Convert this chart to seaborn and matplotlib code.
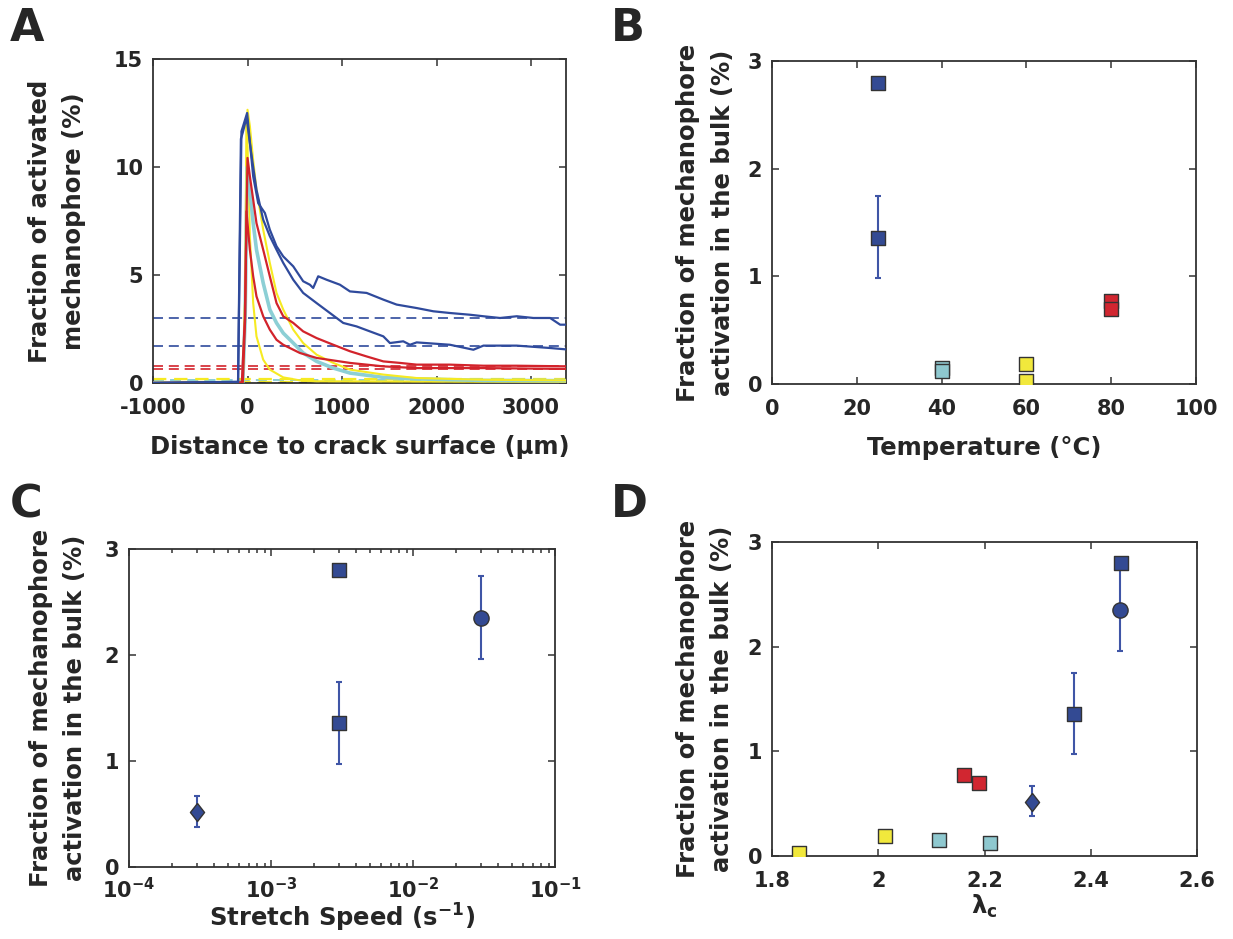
import numpy as np
import pandas as pd
import matplotlib
matplotlib.use("Agg")
import matplotlib.pyplot as plt
import seaborn as sns

# ---------------- data ----------------
# Panel A: activation profiles (distance in um, fraction %)
blue1_x = [-1000, -100, -64, -46, -4, 60, 113, 148, 184, 236, 307, 378, 484, 589, 660, 695, 748, 837, 978,
           1084, 1260, 1437, 1578, 1790, 1966, 2143, 2354, 2496, 2672, 2849, 3025, 3202, 3308, 3413]
blue1_y = [0.0, 0.05, 11.65, 11.9, 12.5, 9.57, 8.33, 8.10, 7.87, 7.10, 6.33, 5.86, 5.40, 4.71, 4.55, 4.40, 4.94,
           4.78, 4.55, 4.24, 4.17, 3.86, 3.63, 3.47, 3.32, 3.24, 3.16, 3.09, 3.01, 3.09, 3.01, 3.01, 2.70, 2.70]

blue2_x = [-1000, -100, -70, -50, -10, 25, 60, 95, 166, 236, 307, 378, 484, 589, 731, 872, 1013, 1154, 1295,
           1437, 1507, 1648, 1719, 1790, 2143, 2390, 2496, 2849, 3202, 3413]
blue2_y = [0.0, 0.05, 11.3, 11.6, 12.3, 11.1, 10.0, 8.95, 7.56, 6.80, 6.17, 5.56, 4.78, 4.17, 3.70, 3.24, 2.78,
           2.62, 2.39, 2.16, 1.85, 1.93, 1.77, 1.88, 1.77, 1.54, 1.73, 1.73, 1.62, 1.54]

red1_x = [-1000, -60, -28, 0, 25, 60, 95, 166, 236, 307, 378, 484, 589, 731, 908, 1084, 1260, 1437, 1613,
          1790, 2143, 2496, 2849, 3413]
red1_y = [0.0, 0.02, 3.0, 10.42, 9.57, 8.49, 7.40, 6.17, 4.94, 3.70, 3.09, 2.78, 2.39, 2.08, 1.77, 1.47, 1.23,
          1.00, 0.93, 0.85, 0.85, 0.80, 0.80, 0.77]

red2_x = [-1000, -50, -25, -11, 25, 60, 95, 166, 236, 307, 378, 554, 731, 1084, 1437, 1790, 2496, 3413]
red2_y = [0.0, 0.02, 3.0, 7.95, 6.17, 4.94, 4.01, 3.09, 2.47, 2.00, 1.77, 1.39, 1.16, 0.93, 0.77, 0.69, 0.69, 0.65]

cyan_x = [-1000, -50, -25, -4, 25, 60, 95, 166, 236, 307, 378, 484, 589, 731, 908, 1084, 1437, 1790, 2496, 3413]
cyan_y = [0.0, 0.02, 3.0, 10.0, 8.95, 7.40, 6.17, 4.63, 3.40, 2.78, 2.31, 1.85, 1.39, 1.00, 0.69, 0.46, 0.26,
          0.19, 0.12, 0.11]

yellow1_x = [-1000, -50, -25, 0, 25, 60, 95, 166, 236, 307, 378, 484, 589, 731, 908, 1084, 1437, 1790, 2496, 3413]
yellow1_y = [0.0, 0.02, 4.0, 12.65, 11.9, 10.3, 8.95, 7.10, 5.56, 4.17, 3.40, 2.47, 1.85, 1.31, 0.93, 0.62,
             0.39, 0.23, 0.15, 0.12]

yellow2_x = [-1000, -50, -25, -11, 7, 25, 60, 95, 166, 236, 378, 554, 731, 3413]
yellow2_y = [0.0, 0.02, 4.0, 12.35, 10.0, 6.80, 3.70, 2.16, 1.08, 0.62, 0.26, 0.12, 0.08, 0.05]

# bulk levels (dashed lines) in panel A
bulk_blue = [3.0, 1.7]
bulk_red = [0.80, 0.66]
bulk_cyan = [0.15, 0.12]
bulk_yellow = [0.19, 0.03]

# Panel B: bulk activation vs temperature
temp_blue = [25, 25]
bulk_t_blue = [2.80, 1.36]
err_t_blue_lo = [0.0, 0.38]
err_t_blue_hi = [0.0, 0.39]
temp_cyan = [40, 40]
bulk_t_cyan = [0.15, 0.12]
temp_yellow = [60, 60]
bulk_t_yellow = [0.19, 0.03]
temp_red = [80, 80]
bulk_t_red = [0.77, 0.70]

# Panel C: bulk activation vs stretch speed
speed_diamond = [3e-4]
bulk_s_diamond = [0.52]
err_s_diamond = [[0.14], [0.15]]
speed_square = [3e-3, 3e-3]
bulk_s_square = [2.80, 1.36]
err_s_square = [[0.0, 0.39], [0.0, 0.39]]
speed_circle = [3e-2]
bulk_s_circle = [2.35]
err_s_circle = [[0.39], [0.40]]

# Panel D: bulk activation vs lambda_c
lam_yellow = [1.851, 2.012]
bulk_l_yellow = [0.03, 0.19]
lam_cyan = [2.114, 2.21]
bulk_l_cyan = [0.15, 0.12]
lam_red = [2.161, 2.19]
bulk_l_red = [0.77, 0.70]
lam_diamond = [2.29]
bulk_l_diamond = [0.52]
err_l_diamond = [[0.14], [0.15]]
lam_square = [2.368, 2.457]
bulk_l_square = [1.36, 2.80]
err_l_square = [[0.39, 0.0], [0.39, 0.0]]
lam_circle = [2.455]
bulk_l_circle = [2.35]
err_l_circle = [[0.39], [0.40]]

# ---------------- style ----------------
sns.set_style("ticks")
plt.rcParams['font.family'] = ['DejaVu Sans']
plt.rcParams['font.weight'] = 'bold'
plt.rcParams['axes.labelweight'] = 'bold'
plt.rcParams['mathtext.fontset'] = 'dejavusans'
plt.rcParams['mathtext.default'] = 'bf'

BLUE_L = '#2f4a9c'
RED_L = '#d2232b'
CYAN_L = '#8ccfd5'
YEL_L = '#f6ea22'
BLUE_M = '#334a93'
RED_M = '#d12630'
CYAN_M = '#8ec8cf'
YEL_M = '#f1e83c'
ERR = '#3f55a6'
EDGE = '#333333'
FS = 15      # tick labels
LFS = 17.5   # axis labels

W, H = 1233, 939
fig = plt.figure(figsize=(W / 100, H / 100), dpi=100)


def rect(l, t, r, b):
    return [l / W, 1 - b / H, (r - l) / W, (b - t) / H]


def style(ax, xpad=11):
    for s in ax.spines.values():
        s.set_color(EDGE)
        s.set_linewidth(1.3)
        s.set_visible(True)
    ax.tick_params(which='both', direction='in', top=True, right=True,
                   labelsize=FS, width=1.1, color=EDGE)
    ax.tick_params(axis='y', which='both', pad=7)
    ax.tick_params(axis='x', which='both', pad=xpad)
    ax.tick_params(which='major', length=5)
    ax.tick_params(which='minor', length=3)
    for lab in ax.get_xticklabels() + ax.get_yticklabels():
        lab.set_fontweight('bold')


def ylab(ax, text, xc):
    ax.set_ylabel(text, fontsize=LFS, fontweight='bold', va='center', linespacing=1.55)
    ax.yaxis.set_label_coords(xc, 0.5)


diamond = [(0, 1), (0.78, 0), (0, -1), (-0.78, 0), (0, 1)]

# ---------------- Panel A ----------------
axA = fig.add_axes(rect(153, 59, 566, 383))
for v in bulk_blue:
    axA.axhline(v, color=BLUE_L, ls=(0, (6, 3.5)), lw=1.2, zorder=1)
for v in bulk_red:
    axA.axhline(v, color=RED_L, ls=(0, (6, 3.5)), lw=1.2, zorder=1)
for v in bulk_cyan:
    axA.axhline(v, color=CYAN_L, ls=(0, (6, 3.5)), lw=1.3, zorder=1)
for v in bulk_yellow:
    axA.axhline(v, color=YEL_L, ls=(0, (6, 3.5)), lw=1.6, zorder=1)
axA.axhline(0.0, color='#222222', ls=(0, (4, 6)), lw=1.5, zorder=1)

curves = [
    (yellow2_x, yellow2_y, YEL_L, 1.5),
    (cyan_x, cyan_y, CYAN_L, 2.6),
    (yellow1_x, yellow1_y, YEL_L, 1.5),
    (red2_x, red2_y, RED_L, 1.6),
    (red1_x, red1_y, RED_L, 1.6),
    (blue2_x, blue2_y, BLUE_L, 1.6),
    (blue1_x, blue1_y, BLUE_L, 1.6),
]
for cx, cy, col, lw in curves:
    sns.lineplot(x=cx, y=cy, color=col, lw=lw, ax=axA, sort=False, estimator=None, zorder=3)

axA.set_xlim(-1000, 3370)
axA.set_ylim(0, 15)
axA.set_xticks([-1000, 0, 1000, 2000, 3000])
axA.set_xticklabels(['-1000', '0', '1000', '2000', '3000'])
axA.set_yticks([0, 5, 10, 15])
axA.set_yticklabels(['0', '5', '10', '15'])
axA.set_xlabel('Distance to crack surface (μm)', fontsize=LFS, fontweight='bold', labelpad=12)
ylab(axA, 'Fraction of activated\nmechanophore (%)', -0.232)
style(axA)


def sq(ax, x, y, col, size=115, marker='s'):
    sns.scatterplot(x=x, y=y, color=col, marker=marker, s=size, edgecolor=EDGE,
                    linewidth=1.0, ax=ax, zorder=4, legend=False)


def eb(ax, x, y, yerr):
    ax.errorbar(x, y, yerr=yerr, fmt='none', ecolor=ERR, elinewidth=1.5,
                capsize=2.5, capthick=1.5, zorder=3)


# ---------------- Panel B ----------------
axB = fig.add_axes(rect(772, 61, 1196, 384))
eb(axB, temp_blue, bulk_t_blue, [err_t_blue_lo, err_t_blue_hi])
sq(axB, temp_blue, bulk_t_blue, BLUE_M)
sq(axB, temp_cyan, bulk_t_cyan, CYAN_M)
sq(axB, temp_yellow, bulk_t_yellow, YEL_M)
sq(axB, temp_red, bulk_t_red, RED_M)
axB.set_xlim(0, 100)
axB.set_ylim(0, 3)
axB.set_xticks([0, 20, 40, 60, 80, 100])
axB.set_xticklabels(['0', '20', '40', '60', '80', '100'])
axB.set_yticks([0, 1, 2, 3])
axB.set_yticklabels(['0', '1', '2', '3'])
axB.set_xlabel('Temperature (°C)', fontsize=LFS, fontweight='bold', labelpad=12)
ylab(axB, 'Fraction of mechanophore\nactivation in the bulk (%)', -0.157)
style(axB)

# ---------------- Panel C ----------------
axC = fig.add_axes(rect(129, 549, 555, 867))
axC.set_xscale('log')
eb(axC, speed_diamond, bulk_s_diamond, err_s_diamond)
eb(axC, speed_square, bulk_s_square, err_s_square)
eb(axC, speed_circle, bulk_s_circle, err_s_circle)
sq(axC, speed_diamond, bulk_s_diamond, BLUE_M, size=170, marker=diamond)
sq(axC, speed_square, bulk_s_square, BLUE_M)
sq(axC, speed_circle, bulk_s_circle, BLUE_M, size=120, marker='o')
axC.set_xlim(1e-4, 1e-1)
axC.set_ylim(0, 3)
axC.set_xticks([1e-4, 1e-3, 1e-2, 1e-1])
axC.set_xticklabels([r'$10^{-4}$', r'$10^{-3}$', r'$10^{-2}$', r'$10^{-1}$'])
axC.set_yticks([0, 1, 2, 3])
axC.set_yticklabels(['0', '1', '2', '3'])
axC.set_xlabel(r'Stretch Speed (s$^{-1}$)', fontsize=LFS, fontweight='bold', labelpad=0)
ylab(axC, 'Fraction of mechanophore\nactivation in the bulk (%)', -0.167)
style(axC, xpad=7)

# ---------------- Panel D ----------------
axD = fig.add_axes(rect(772, 542, 1197, 856))
eb(axD, lam_diamond, bulk_l_diamond, err_l_diamond)
eb(axD, lam_square, bulk_l_square, err_l_square)
eb(axD, lam_circle, bulk_l_circle, err_l_circle)
sq(axD, lam_yellow, bulk_l_yellow, YEL_M)
sq(axD, lam_cyan, bulk_l_cyan, CYAN_M)
sq(axD, lam_red, bulk_l_red, RED_M)
sq(axD, lam_diamond, bulk_l_diamond, BLUE_M, size=170, marker=diamond)
sq(axD, lam_square, bulk_l_square, BLUE_M)
sq(axD, lam_circle, bulk_l_circle, BLUE_M, size=120, marker='o')
axD.set_xlim(1.8, 2.6)
axD.set_ylim(0, 3)
axD.set_xticks([1.8, 2.0, 2.2, 2.4, 2.6])
axD.set_xticklabels(['1.8', '2', '2.2', '2.4', '2.6'])
axD.set_yticks([0, 1, 2, 3])
axD.set_yticklabels(['0', '1', '2', '3'])
axD.set_xlabel(r'$\lambda_c$', fontsize=LFS, fontweight='bold', labelpad=1)
ylab(axD, 'Fraction of mechanophore\nactivation in the bulk (%)', -0.158)
style(axD)

# panel letters
for lbl, px, py in [('A', 10, 7), ('B', 611, 7), ('C', 10, 483), ('D', 611, 483)]:
    fig.text(px / W, 1 - py / H, lbl, fontsize=32, fontweight='bold', ha='left', va='top')

fig.savefig('out.png', dpi=100, facecolor='white')
